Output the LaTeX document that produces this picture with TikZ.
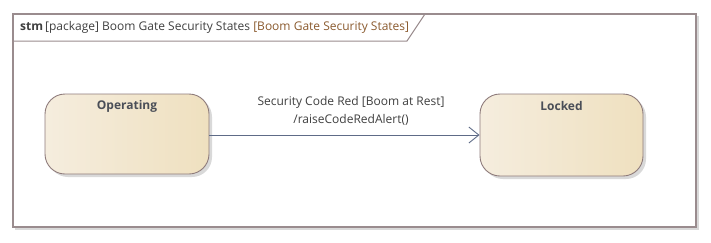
\documentclass[tikz,border=0pt]{standalone}
\usepackage{fontspec}
\setmainfont{Open Sans}
\usetikzlibrary{arrows.meta,shadows}
\definecolor{framec}{HTML}{9A8C8E}
\definecolor{boxline}{HTML}{8E7B7B}
\definecolor{fillL}{HTML}{F5EDDE}
\definecolor{fillR}{HTML}{EFE0BF}
\definecolor{arrowc}{HTML}{5E6B87}
\definecolor{txt}{HTML}{3F3F3F}
\definecolor{namec}{HTML}{4A4E57}
\definecolor{brownt}{HTML}{8A5A2E}
\tikzset{
  statebox/.style={draw=boxline, line width=0.9pt, rounded corners=20pt,
    left color=fillL, right color=fillR,
    drop shadow={shadow xshift=3pt, shadow yshift=-3pt, fill=black!25, opacity=0.6}},
  statename/.style={font=\fontsize{12}{14}\selectfont\bfseries, text=namec},
  trans/.style={draw=arrowc, line width=0.9pt, -{Straight Barb[length=10pt,width=16pt,line width=0.9pt]}},
  translabel/.style={font=\fontsize{12}{17.5}\selectfont, text=txt, align=center},
}
\begin{document}
\begin{tikzpicture}[x=1pt,y=-1pt]
\useasboundingbox (0,0) rectangle (711,242);
% frame shadow
\draw[black!15, line width=2pt] (698,16) -- (698,229) -- (15,229);
\draw[framec, line width=1.6pt] (13,14) rectangle (696,227);
\coordinate (tabA) at (13,41);
\coordinate (tabB) at (407,41);
\coordinate (tabC) at (425,14);
\draw[framec, line width=1pt] (tabA) -- (tabB) -- (tabC);
\node[anchor=west, inner sep=0pt, font=\fontsize{12}{14}\selectfont, text=txt] (title) at (20,27)
  {\textbf{stm}\,[package] Boom Gate Security States \textcolor{brownt}{[Boom Gate Security States]}};
% states
\node[statebox, minimum width=164pt, minimum height=80pt, inner sep=0pt] (op) at (127,134) {};
\node[statename] (opl) at (127,106) {Operating};
\node[statebox, minimum width=163pt, minimum height=82pt, inner sep=0pt] (lk) at (561.5,135) {};
\node[statename] (lkl) at (561.5,106) {Locked};
% transition
\draw[trans] (op.east |- 0,135) -- (lk.west |- 0,135);
\node[translabel] (tl) at (351,111) {Security Code Red [Boom at Rest]\\/raiseCodeRedAlert()};
\end{tikzpicture}
\end{document}
